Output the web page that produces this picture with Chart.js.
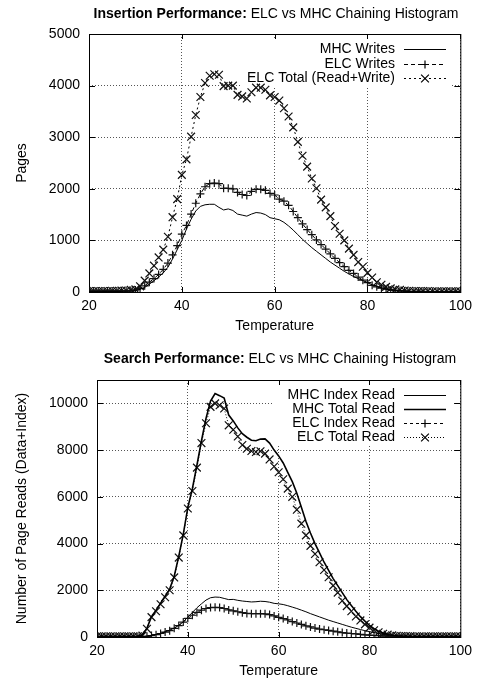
<!DOCTYPE html>
<html>
<head>
<meta charset="utf-8">
<script src="https://cdn.jsdelivr.net/npm/chart.js@4.4.1/dist/chart.umd.min.js"></script>
<style>
body { margin: 0; background: #fff; font-family: "Liberation Sans", Arial, sans-serif; }
.panel { position: relative; width: 478px; }
.title { position: absolute; z-index: 2; white-space: nowrap; transform: translateX(-50%); font-size: 14px; line-height: 16px; color: #000; }
canvas { display: block; }
</style>
</head>
<body>
<div class="panel" style="height:340px">
  <div class="title" style="left:276px;top:5px"><b>Insertion Performance:</b> ELC vs MHC Chaining Histogram</div>
  <canvas id="insertChart" width="478" height="340"></canvas>
</div>
<div class="panel" style="height:343px">
  <div class="title" style="left:280px;top:10px"><b>Search Performance:</b> ELC vs MHC Chaining Histogram</div>
  <canvas id="searchChart" width="478" height="343"></canvas>
</div>
<script>
const temperatures = [20, 21, 22, 23, 24, 25, 26, 27, 28, 29,
  30, 31, 32, 33, 34, 35, 36, 37, 38, 39,
  40, 41, 42, 43, 44, 45, 46, 47, 48, 49,
  50, 51, 52, 53, 54, 55, 56, 57, 58, 59,
  60, 61, 62, 63, 64, 65, 66, 67, 68, 69,
  70, 71, 72, 73, 74, 75, 76, 77, 78, 79,
  80, 81, 82, 83, 84, 85, 86, 87, 88, 89,
  90, 91, 92, 93, 94, 95, 96, 97, 98, 99, 100];

// insertion chart
const mhcWrites = [10, 10, 10, 10, 10, 10, 10, 10, 15, 15,
  25, 50, 90, 150, 220, 290, 370, 480, 640, 820,
  1000, 1220, 1410, 1570, 1660, 1690, 1700, 1700, 1640, 1590,
  1610, 1580, 1510, 1490, 1470, 1510, 1540, 1530, 1500, 1440,
  1420, 1400, 1350, 1280, 1200, 1110, 1020, 940, 860, 790,
  720, 650, 580, 520, 460, 400, 350, 300, 260, 220,
  180, 140, 110, 80, 60, 40, 30, 20, 15, 10,
  8, 8, 5, 5, 5, 5, 5, 5, 5, 5, 5];
const elcWrites = [20, 20, 20, 20, 20, 20, 20, 25, 25, 30,
  40, 70, 120, 190, 260, 340, 440, 560, 720, 900,
  1120, 1290, 1510, 1720, 1900, 2040, 2100, 2110, 2100, 2010,
  2010, 2000, 1930, 1890, 1870, 1950, 1990, 1990, 1970, 1910,
  1880, 1800, 1760, 1680, 1560, 1440, 1320, 1210, 1110, 1010,
  920, 830, 740, 650, 570, 490, 420, 360, 290, 230,
  180, 130, 100, 75, 55, 40, 30, 25, 20, 15,
  15, 15, 15, 10, 10, 10, 10, 10, 10, 10, 10];
const elcTotalRW = [20, 20, 20, 20, 20, 25, 25, 30, 30, 40,
  50, 110, 220, 360, 510, 670, 820, 1070, 1450, 1800,
  2270, 2570, 3010, 3430, 3780, 4050, 4190, 4220, 4210, 3990,
  4000, 4000, 3820, 3790, 3750, 3870, 3960, 3960, 3920, 3810,
  3780, 3710, 3560, 3400, 3190, 2910, 2640, 2430, 2200, 2010,
  1790, 1640, 1470, 1280, 1130, 1000, 840, 720, 580, 490,
  370, 280, 190, 140, 100, 70, 50, 40, 30, 25,
  20, 20, 20, 20, 15, 15, 15, 15, 15, 15, 15];

// search chart
const mhcIndexRead = [10, 10, 10, 10, 10, 10, 10, 10, 10, 10,
  20, 40, 70, 110, 160, 220, 290, 380, 500, 650,
  850, 1050, 1250, 1420, 1580, 1680, 1710, 1700, 1650, 1600,
  1610, 1570, 1540, 1520, 1500, 1510, 1530, 1520, 1490, 1440,
  1420, 1390, 1340, 1280, 1220, 1150, 1080, 1000, 930, 860,
  790, 720, 660, 600, 540, 480, 420, 370, 320, 270,
  230, 190, 150, 120, 90, 70, 50, 40, 30, 20,
  15, 15, 10, 10, 10, 10, 10, 10, 10, 10, 10];
const mhcTotalRead = [30, 30, 30, 30, 30, 30, 30, 30, 30, 30,
  80, 380, 870, 1150, 1450, 1750, 2050, 2600, 3450, 4400,
  5550, 6350, 7350, 8400, 9350, 10100, 10420, 10330, 10230, 9500,
  9250, 8950, 8700, 8550, 8420, 8400, 8470, 8480, 8300, 8000,
  7750, 7450, 7050, 6650, 6150, 5550, 4950, 4450, 4000, 3600,
  3200, 2850, 2500, 2200, 1900, 1600, 1350, 1100, 870, 680,
  500, 360, 250, 170, 110, 75, 55, 45, 40, 35,
  30, 30, 30, 30, 30, 30, 30, 30, 30, 30, 30];
const elcIndexRead = [10, 10, 10, 10, 10, 10, 10, 10, 10, 10,
  15, 30, 60, 100, 150, 210, 270, 370, 490, 640,
  800, 930, 1050, 1150, 1220, 1260, 1270, 1260, 1220, 1160,
  1120, 1080, 1040, 1010, 1000, 1000, 1000, 990, 960, 900,
  840, 790, 730, 660, 600, 540, 480, 430, 380, 340,
  310, 280, 250, 220, 190, 170, 150, 130, 110, 95,
  80, 65, 55, 45, 35, 30, 25, 20, 20, 15,
  15, 15, 15, 15, 15, 15, 15, 15, 15, 15, 15];
const elcTotalRead = [30, 30, 30, 30, 30, 30, 30, 30, 30, 30,
  60, 350, 850, 1100, 1400, 1700, 2000, 2550, 3400, 4350,
  5500, 6250, 7250, 8300, 9150, 9850, 10000, 9920, 9780, 9060,
  8870, 8580, 8220, 8060, 7960, 7920, 7950, 7850, 7600, 7300,
  7050, 6750, 6350, 6000, 5450, 4850, 4350, 3900, 3550, 3200,
  2870, 2560, 2200, 1900, 1550, 1320, 1100, 880, 710, 540,
  400, 290, 200, 140, 100, 70, 55, 45, 40, 35,
  30, 30, 30, 30, 30, 30, 30, 30, 30, 30, 30];

const xTicks = [20, 40, 60, 80, 100];
const insertYTicks = [0, 1000, 2000, 3000, 4000, 5000];
const searchYTicks = [0, 2000, 4000, 6000, 8000, 10000];

const FONT = '"Liberation Sans", Arial, sans-serif';
Chart.defaults.font.family = FONT;
Chart.defaults.font.size = 14;
Chart.defaults.color = '#000';

function points(values) {
  return temperatures.map((t, i) => ({ x: t, y: values[i] }));
}

function series(label, values, style) {
  return Object.assign({
    label: label,
    data: points(values),
    borderColor: '#000',
    backgroundColor: '#000',
    borderWidth: 1,
    borderDash: [],
    pointRadius: 0,
    pointHoverRadius: 0,
    pointStyle: false,
    pointBorderColor: '#111',
    pointBorderWidth: 1.2,
    tension: 0,
    fill: false
  }, style);
}

function drawMarker(ctx, style, x, y, r) {
  ctx.beginPath();
  if (style === 'cross') {
    ctx.moveTo(x - r, y); ctx.lineTo(x + r, y);
    ctx.moveTo(x, y - r); ctx.lineTo(x, y + r);
  } else if (style === 'crossRot') {
    const d = r * Math.SQRT1_2;
    ctx.moveTo(x - d, y - d); ctx.lineTo(x + d, y + d);
    ctx.moveTo(x - d, y + d); ctx.lineTo(x + d, y - d);
  }
  ctx.stroke();
}

// gnuplot look: opaque key box, full border with inward ticks, key on the right
const gnuplotFrame = {
  id: 'gnuplotFrame',
  beforeDatasetsDraw(chart, args, opts) {
    const { ctx, chartArea: a } = chart;
    const xs = chart.scales.x, ys = chart.scales.y;
    ctx.save();
    ctx.fillStyle = '#fff';
    ctx.fillRect(opts.box[0], opts.box[1], opts.box[2], opts.box[3]);
    ctx.strokeStyle = '#000';
    ctx.lineWidth = 1;
    ctx.setLineDash([]);
    ctx.strokeRect(a.left + 0.5, a.top + 0.5, a.width, a.height);
    ctx.beginPath();
    xs.ticks.forEach(t => {
      const px = Math.round(xs.getPixelForValue(t.value)) + 0.5;
      ctx.moveTo(px, a.bottom); ctx.lineTo(px, a.bottom - 5);
      ctx.moveTo(px, a.top); ctx.lineTo(px, a.top + 5);
    });
    ys.ticks.forEach(t => {
      const py = Math.round(ys.getPixelForValue(t.value)) + 0.5;
      ctx.moveTo(a.left, py); ctx.lineTo(a.left + 6, py);
      ctx.moveTo(a.right, py); ctx.lineTo(a.right - 6, py);
    });
    ctx.stroke();
    ctx.restore();
  },
  afterDatasetsDraw(chart, args, opts) {
    const ctx = chart.ctx;
    ctx.save();
    ctx.font = '14px ' + FONT;
    ctx.fillStyle = '#000';
    ctx.textAlign = 'right';
    ctx.textBaseline = 'middle';
    chart.data.datasets.forEach((ds, i) => {
      const y = Math.round(opts.keyTop + i * opts.keyStep) + 0.5;
      ctx.fillText(ds.label, opts.textRight, y);
      ctx.strokeStyle = '#000';
      ctx.lineWidth = ds.borderWidth;
      ctx.setLineDash(ds.borderDash);
      ctx.beginPath();
      ctx.moveTo(opts.sample[0], y);
      ctx.lineTo(opts.sample[1], y);
      ctx.stroke();
      if (ds.pointStyle) {
        ctx.setLineDash([]);
        ctx.lineWidth = 1.2;
        drawMarker(ctx, ds.pointStyle, (opts.sample[0] + opts.sample[1]) / 2, y, ds.pointRadius);
      }
    });
    ctx.restore();
  }
};

function makeChart(id, datasets, cfg) {
  return new Chart(document.getElementById(id), {
    type: 'line',
    data: { datasets: datasets },
    plugins: [gnuplotFrame],
    options: {
      responsive: false,
      animation: false,
      events: [],
      devicePixelRatio: 1,
      layout: { padding: { top: cfg.top, right: 15, left: 0, bottom: 0 } },
      plugins: {
        legend: { display: false },
        tooltip: { enabled: false },
        gnuplotFrame: cfg.frame
      },
      scales: {
        x: {
          type: 'linear',
          min: 20,
          max: 100,
          afterBuildTicks: s => { s.ticks = xTicks.map(v => ({ value: v })); },
          afterFit: s => { s.height = cfg.xHeight; },
          ticks: { padding: 6, color: '#000', font: { size: 14 }, callback: v => String(v) },
          grid: { color: '#555', lineWidth: 1, drawTicks: false },
          border: { display: false, dash: [1, 2] },
          title: { display: true, text: 'Temperature', color: '#000', font: { size: 14 }, padding: { top: 0, bottom: cfg.xTitlePad } }
        },
        y: {
          min: 0,
          max: cfg.yMax,
          afterBuildTicks: s => { s.ticks = cfg.yTicks.map(v => ({ value: v })); },
          afterFit: s => { s.width = cfg.yWidth; },
          ticks: { padding: 9, color: '#000', font: { size: 14 }, callback: v => String(v) },
          grid: { color: '#555', lineWidth: 1, drawTicks: false },
          border: { display: false, dash: [1, 2] },
          title: { display: true, text: cfg.yTitle, color: '#000', font: { size: 14 }, padding: { top: 14, bottom: 0 } }
        }
      }
    }
  });
}

makeChart('insertChart', [
  series('MHC Writes', mhcWrites, {}),
  series('ELC Writes', elcWrites, { borderDash: [4, 3], pointStyle: 'cross', pointRadius: 4, pointHoverRadius: 4 }),
  series('ELC Total (Read+Write)', elcTotalRW, { borderDash: [2, 3], pointStyle: 'crossRot', pointRadius: 5.5, pointHoverRadius: 5.5 })
], {
  top: 34, xHeight: 48, xTitlePad: 5, yWidth: 89, yMax: 5000, yTicks: insertYTicks, yTitle: 'Pages',
  frame: { box: [241, 38, 211, 50], keyTop: 49, keyStep: 14.5, textRight: 395, sample: [404, 446] }
});

makeChart('searchChart', [
  series('MHC Index Read', mhcIndexRead, {}),
  series('MHC Total Read', mhcTotalRead, { borderWidth: 1.6 }),
  series('ELC Index Read', elcIndexRead, { borderDash: [3, 3], pointStyle: 'cross', pointRadius: 4, pointHoverRadius: 4 }),
  series('ELC Total Read', elcTotalRead, { borderDash: [1, 2], pointStyle: 'crossRot', pointRadius: 5.5, pointHoverRadius: 5.5 })
], {
  top: 40, xHeight: 46, xTitlePad: 3, yWidth: 97, yMax: 11000, yTicks: searchYTicks, yTitle: 'Number of Page Reads (Data+Index)',
  frame: { box: [272, 42, 180, 64], keyTop: 55, keyStep: 14, textRight: 395, sample: [404, 446] }
});
</script>
</body>
</html>
